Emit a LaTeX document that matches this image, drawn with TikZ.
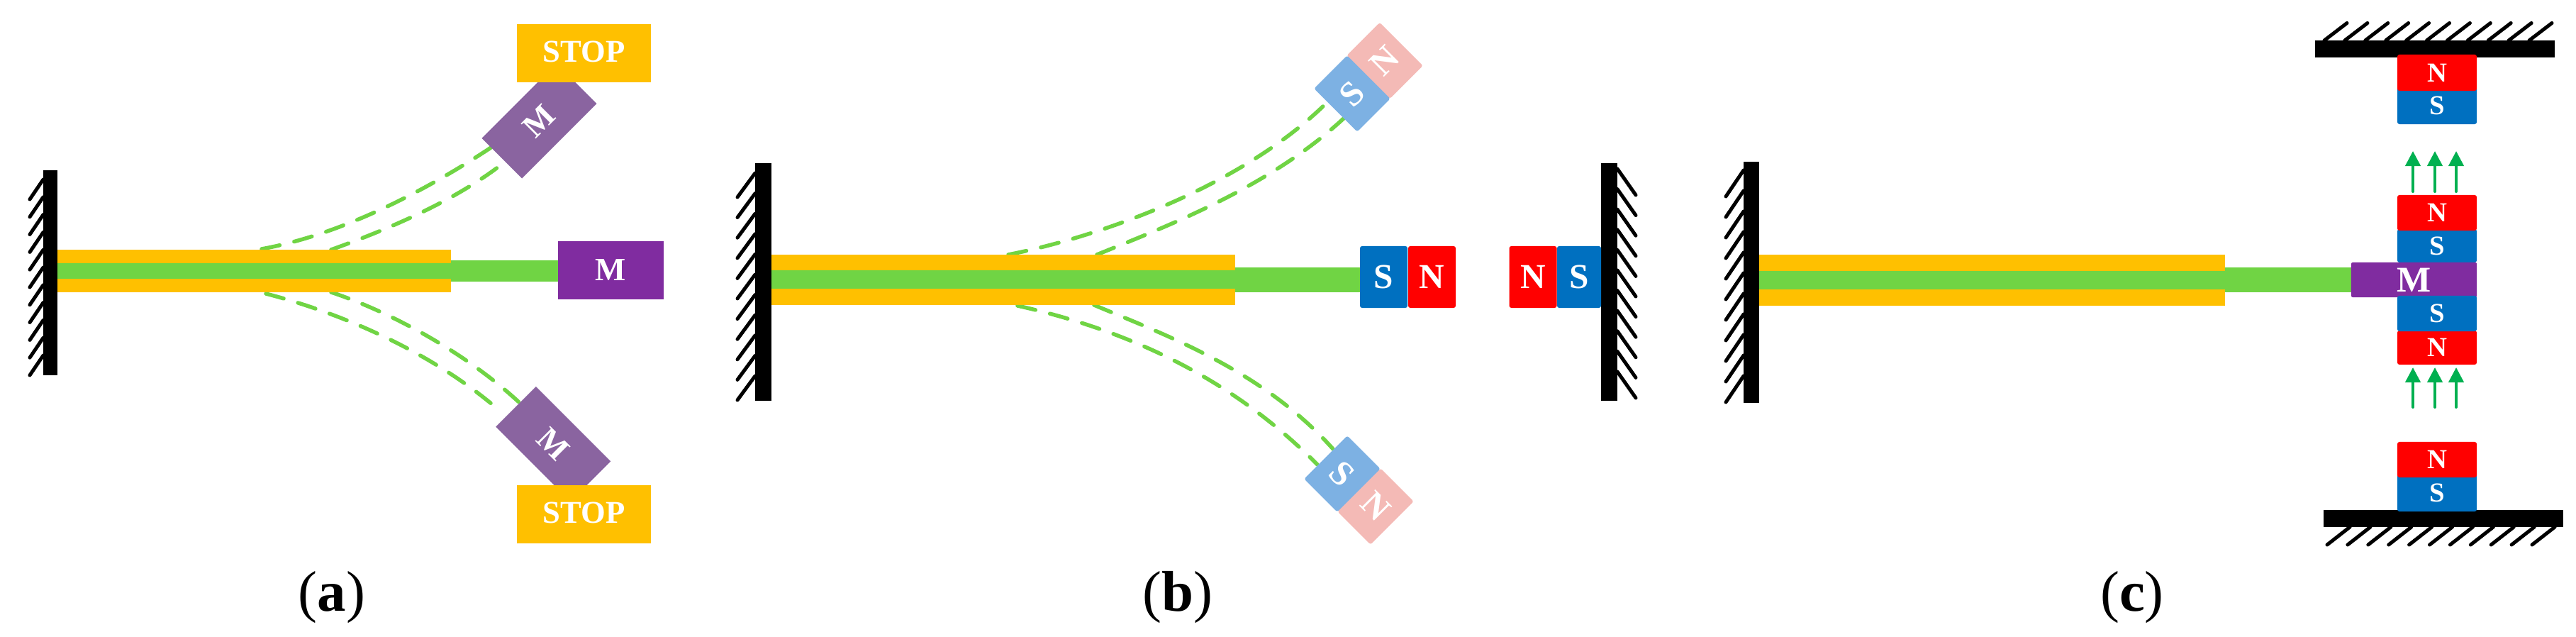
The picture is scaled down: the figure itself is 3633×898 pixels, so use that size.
\documentclass[tikz,border=0pt]{standalone}
\usepackage{fontspec}
\setmainfont{Liberation Serif}
\usepackage{xcolor}
\usetikzlibrary{arrows.meta}
\definecolor{beamgreen}{RGB}{112,212,68}
\definecolor{stopyellow}{RGB}{255,192,0}
\definecolor{massviolet}{RGB}{128,44,160}
\definecolor{fadeviolet}{RGB}{138,100,160}
\definecolor{poleblue}{RGB}{0,112,192}
\definecolor{polered}{RGB}{255,0,0}
\definecolor{fadeblue}{RGB}{125,177,227}
\definecolor{fadered}{RGB}{244,186,182}
\definecolor{fieldgreen}{RGB}{0,176,80}

\begin{document}
\begin{tikzpicture}[x=0.01cm,y=-0.01cm,
    block/.style={inner sep=0pt,outer sep=0pt,text=white,font=\fontsize{11}{11}\selectfont\bfseries},
    stopbox/.style={block,fill=stopyellow,minimum width=1.89cm,minimum height=0.82cm,text depth=0.05cm,font=\fontsize{12.7}{12.7}\selectfont\bfseries},
    massbox/.style={block,fill=massviolet,minimum width=1.49cm,minimum height=0.82cm,font=\fontsize{13}{13}\selectfont\bfseries},
    fadedmass/.style={massbox,fill=fadeviolet,minimum height=0.80cm},
    pole/.style={block,rounded corners=0.03cm,minimum width=0.67cm,minimum height=0.87cm,font=\fontsize{14}{14}\selectfont\bfseries},
    fadedpole/.style={pole,minimum width=0.66cm,minimum height=0.86cm},
    stackpole/.style={block,rounded corners=0.03cm,minimum width=1.12cm},
    wall/.style={fill=black},
    hatch/.style={draw=black,line width=0.05cm,line cap=round},
    flex/.style={draw=beamgreen,line width=0.055cm,line cap=round,dash pattern=on 0.26cm off 0.21cm},
    field/.style={draw=fieldgreen,line width=0.04cm,line cap=round,-{Triangle[length=0.21cm,width=0.21cm]}},
    caption/.style={inner sep=0pt,font=\fontsize{23}{23}\selectfont}
]
\useasboundingbox (0,0) rectangle (3633,898);

% (a)
\draw[flex] (369,351) .. controls (480,331) and (600,270) .. (700,203);
\draw[flex] (467,352) .. controls (540,326) and (640,285) .. (711,229);
\draw[flex] (467,412) .. controls (540,436) and (650,491) .. (733,568);
\draw[flex] (375,414) .. controls (480,441) and (610,496) .. (707,581);
\fill[wall] (61,240) rectangle (81,529);
\foreach \i in {0,...,10} {
    \draw[hatch] (61,253+\i*24.8) -- (42,281+\i*24.8);
}
\fill[stopyellow] (81,352) rectangle (636,412);
\fill[beamgreen] (81,371) rectangle (636,393);
\fill[beamgreen] (636,367) rectangle (787,397);
\node[massbox] (massA) at (861.5,381) {M};
\node[fadedmass,rotate=45] (massAup) at (760.5,170.5) {M};
\node[fadedmass,rotate=-45] (massAdown) at (780.3,626) {M};
\node[stopbox] (stopAup) at (823.5,75) {STOP};
\node[stopbox] (stopAdown) at (823.5,725) {STOP};
\node[caption] (capA) at (468,842.5) {(\textbf{a})};

% (b)
\draw[flex] (1422,359) .. controls (1540,336) and (1745,268) .. (1870,146);
\draw[flex] (1547,359) .. controls (1640,321) and (1790,265) .. (1896,166);
\draw[flex] (1543,430) .. controls (1640,471) and (1780,521) .. (1880,633);
\draw[flex] (1435,431) .. controls (1570,461) and (1725,521) .. (1858,655);
\fill[wall] (1065,230) rectangle (1088,565);
\fill[wall] (2258,230) rectangle (2281,565);
\foreach \i in {0,...,10} {
    \draw[hatch] (1065,244+\i*28.6) -- (1040,278+\i*28.6);
    \draw[hatch] (2281,238+\i*28.6) -- (2307,275+\i*28.6);
}
\fill[stopyellow] (1088,359) rectangle (1742,430);
\fill[beamgreen] (1088,381) rectangle (1742,407);
\fill[beamgreen] (1742,377) rectangle (1918,412);
\node[pole,fill=poleblue] (southB) at (1951.5,390.5) {S};
\node[pole,fill=polered] (northB) at (2019.5,390.5) {N};
\node[pole,fill=polered] (northBfix) at (2162,390.5) {N};
\node[pole,fill=poleblue,minimum width=0.62cm] (southBfix) at (2227,390.5) {S};
\node[fadedpole,fill=fadered,rotate=45] (northBup) at (1953,85.5) {N};
\node[fadedpole,fill=fadeblue,rotate=45] (southBup) at (1907,132) {S};
\node[fadedpole,fill=fadered,rotate=-45] (northBdown) at (1940,714) {N};
\node[fadedpole,fill=fadeblue,rotate=-45] (southBdown) at (1893,668) {S};
\node[caption] (capB) at (1661,842.5) {(\textbf{b})};

% (c)
\fill[wall] (2459,228) rectangle (2481,568);
\foreach \i in {0,...,10} {
    \draw[hatch] (2459,240+\i*29) -- (2434,277+\i*29);
}
\fill[stopyellow] (2481,359) rectangle (3138,431);
\fill[beamgreen] (2481,382) rectangle (3138,408);
\fill[beamgreen] (3138,377) rectangle (3316,412);

\fill[wall] (3265,57) rectangle (3603,81);
\fill[wall] (3277,719) rectangle (3615,743);
\foreach \i in {0,...,10} {
    \draw[hatch] (3278+\i*28.9,57) -- (3310+\i*28.9,32.5);
    \draw[hatch] (3314+\i*28.9,743) -- (3282+\i*28.9,768);
}
\node[stackpole,fill=poleblue,minimum height=0.52cm] (southTop) at (3437,149) {S};
\node[stackpole,fill=polered,minimum height=0.51cm] (northTop) at (3437,102.5) {N};
\node[stackpole,fill=poleblue,minimum height=0.47cm] (southMidUp) at (3437,346.5) {S};
\node[stackpole,fill=polered,minimum height=0.50cm] (northMidUp) at (3437,300) {N};
\node[block,rounded corners=0.02cm,fill=massviolet,minimum width=1.77cm,minimum height=0.49cm,font=\fontsize{14.5}{14.5}\selectfont\bfseries] (massC) at (3404.5,394.5) {M};
\node[stackpole,fill=polered,minimum height=0.48cm] (northMidDown) at (3437,490) {N};
\node[stackpole,fill=poleblue,minimum height=0.50cm] (southMidDown) at (3437,442) {S};
\node[stackpole,fill=poleblue,minimum height=0.52cm] (southBot) at (3437,695) {S};
\node[stackpole,fill=polered,minimum height=0.50cm] (northBot) at (3437,648) {N};
\foreach \x in {3403,3434,3464} {
    \draw[field] (\x,270) -- (\x,213);
    \draw[field] (\x,574) -- (\x,518);
}
\node[caption] (capC) at (3007,842.5) {(\textbf{c})};
\end{tikzpicture}
\end{document}
